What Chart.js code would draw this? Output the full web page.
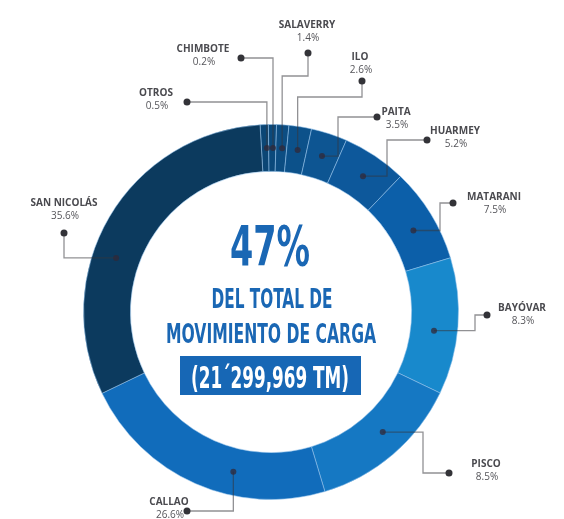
<!DOCTYPE html>
<html>
<head>
<meta charset="utf-8">
<script src="https://cdn.jsdelivr.net/npm/chart.js@4.4.0/dist/chart.umd.min.js"></script>
<style>
  html, body { margin: 0; padding: 0; background: #ffffff; }
  #wrap { width: 564px; height: 519px; }
</style>
</head>
<body>
<div id="wrap"><canvas id="portChart" width="564" height="519"></canvas></div>
<script>
// --- Data ---
// slices run clockwise from the top
const ports = ['OTROS', 'CHIMBOTE', 'SALAVERRY', 'ILO', 'PAITA', 'HUARMEY', 'MATARANI', 'BAYÓVAR', 'PISCO', 'CALLAO', 'SAN NICOLÁS'];
// percentages printed next to each port
const shares = [0.5, 0.2, 1.4, 2.6, 3.5, 5.2, 7.5, 8.3, 8.5, 26.6, 35.6];
// the infographic does not draw slices proportional to the shares:
// these are the arc sizes (degrees) as drawn in the picture
const arcSizes = [2.55, 2.5, 3.8, 7.0, 11.2, 20.0, 29.5, 42.4, 47.7, 81.0, 112.35];

const centerBig = '47%';
const centerLines = ['DEL TOTAL DE', 'MOVIMIENTO DE CARGA'];
const centerBox = '(21´299,969 TM)';

// --- Styles ---
const sliceColors = ['#0b4675', '#0b497b', '#0c4d82', '#0c518a', '#0d5592', '#0d589b',
                     '#0c5fa9', '#1889cc', '#1578c3', '#116cbb', '#0c3a5e'];
const textBlue = '#1a67b4';

// leader layout: [label x, name y, end dot x, end dot y, route, via, position along slice]
const leaders = [
    [156,  93, 187, 102, 'hv',  null, 0.75],
    [203,  49, 241,  58, 'hv',  null, 0.60],
    [307,  25, 308,  53, 'vhv', 76,   0.58],
    [360,  57, 362,  81, 'vhv', 97,   0.55],
    [396, 112, 377, 117, 'hvh', 338,  0.50],
    [455, 131, 427, 140, 'hvh', 387,  0.52],
    [494, 197, 453, 203, 'hvh', 440,  0.56],
    [522, 308, 487, 315, 'hvh', 475,  0.55],
    [486, 464, 449, 473, 'hvh', 423,  0.45],
    [169, 502, 187, 511, 'hv',  null, 0.37],
    [ 64, 203,  64, 233, 'vh',  null, 0.40]
];

// draws a line of text squeezed to a given width
function fitText(ctx, text, cx, baseY, size, width) {
    ctx.font = 'bold ' + size + 'px "DejaVu Sans Condensed", "DejaVu Sans", sans-serif';
    const w = ctx.measureText(text).width;
    ctx.save();
    ctx.translate(cx, baseY);
    ctx.scale(width / w, 1);
    ctx.textAlign = 'center';
    ctx.textBaseline = 'alphabetic';
    ctx.fillText(text, 0, 0);
    ctx.restore();
}

const calloutPlugin = {
    id: 'callouts',
    afterDatasetsDraw(chart) {
        const ctx = chart.ctx;
        const arcs = chart.getDatasetMeta(0).data;

        leaders.forEach((ld, i) => {
            const [lx, ly, dx, dy, route, via, t] = ld;
            const arc = arcs[i];
            const p = arc.getProps(['x', 'y', 'startAngle', 'endAngle', 'innerRadius', 'outerRadius'], true);
            const a = p.startAngle + t * (p.endAngle - p.startAngle);
            const r = (p.innerRadius + p.outerRadius) / 2;
            const ix = p.x + r * Math.cos(a);
            const iy = p.y + r * Math.sin(a);

            // route from the label dot to the dot inside the slice
            let pts = [[dx, dy]];
            if (route === 'hv') pts.push([ix, dy]);
            if (route === 'vh') pts.push([dx, iy]);
            if (route === 'vhv') { pts.push([dx, via]); pts.push([ix, via]); }
            if (route === 'hvh') { pts.push([via, dy]); pts.push([via, iy]); }
            pts.push([ix, iy]);

            ctx.save();
            ctx.strokeStyle = 'rgba(55, 55, 60, 0.55)';
            ctx.lineWidth = 1.3;
            ctx.beginPath();
            pts.forEach((q, k) => k === 0 ? ctx.moveTo(q[0], q[1]) : ctx.lineTo(q[0], q[1]));
            ctx.stroke();

            ctx.fillStyle = '#333338';
            ctx.beginPath();
            ctx.arc(dx, dy, 3.5, 0, Math.PI * 2);
            ctx.fill();
            ctx.fillStyle = 'rgba(50, 40, 55, 0.75)';
            ctx.beginPath();
            ctx.arc(ix, iy, 3, 0, Math.PI * 2);
            ctx.fill();

            ctx.textAlign = 'center';
            ctx.textBaseline = 'middle';
            ctx.fillStyle = '#4a4a4f';
            ctx.font = 'bold 10px "Open Sans", sans-serif';
            ctx.fillText(ports[i], lx, ly);
            ctx.fillStyle = '#55555a';
            ctx.font = '10px "Open Sans", sans-serif';
            ctx.fillText(shares[i].toFixed(1) + '%', lx + 1, ly + 13);
            ctx.restore();
        });

        // centre text
        ctx.save();
        ctx.fillStyle = textBlue;
        fitText(ctx, centerBig, 270, 265, 55, 80);
        fitText(ctx, centerLines[0], 272, 308, 26, 121);
        fitText(ctx, centerLines[1], 271, 343, 27, 210);
        ctx.fillStyle = '#1767b5';
        ctx.fillRect(180, 356, 181, 39);
        ctx.fillStyle = '#ffffff';
        fitText(ctx, centerBox, 270, 388, 31, 158);
        ctx.restore();
    }
};

const ctx = document.getElementById('portChart').getContext('2d');
new Chart(ctx, {
    type: 'doughnut',
    data: {
        labels: ports,
        datasets: [{
            data: arcSizes,
            backgroundColor: sliceColors,
            borderColor: 'rgba(150, 195, 235, 0.55)',
            borderWidth: 1
        }]
    },
    options: {
        responsive: false,
        devicePixelRatio: 1,
        animation: false,
        rotation: -3.35,
        cutout: '75%',
        layout: { padding: { left: 83, right: 105, top: 124, bottom: 19 } },
        plugins: {
            legend: { display: false },
            tooltip: { enabled: false }
        }
    },
    plugins: [calloutPlugin]
});
</script>
</body>
</html>
